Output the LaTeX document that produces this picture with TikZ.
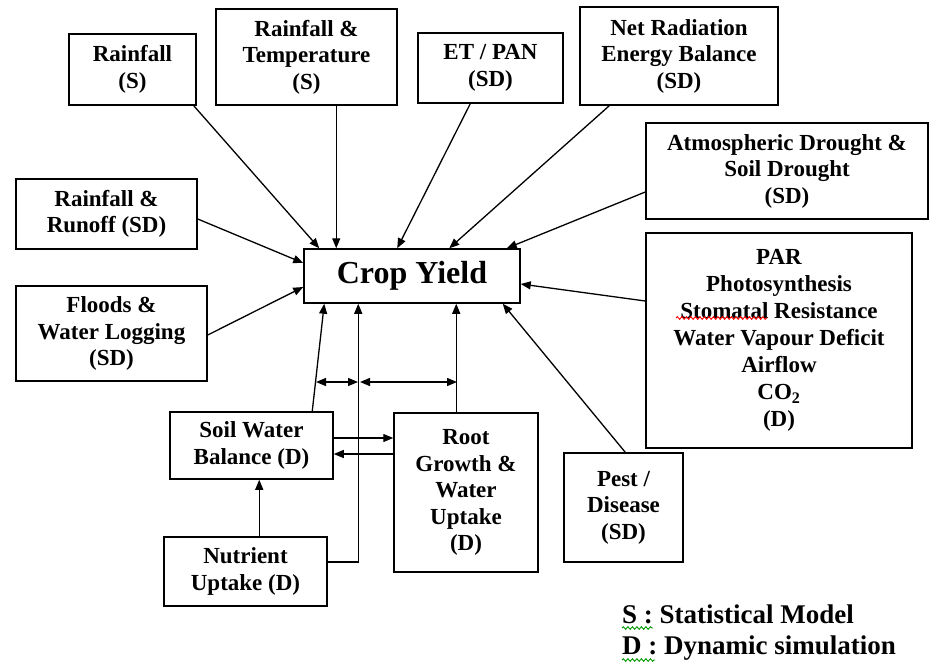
\documentclass[tikz,border=0pt]{standalone}
\usepackage{fontspec}
\setmainfont{Liberation Serif}
\usetikzlibrary{arrows.meta,calc,decorations.pathmorphing}
\begin{document}
\begin{tikzpicture}[x=1pt,y=-1pt,
  box/.style={draw, line width=1.5pt, align=center, inner sep=0pt,
    font=\fontsize{23}{26.5}\selectfont\bfseries},
  arr/.style={-{Triangle[length=10pt,width=8pt]}, line width=1.3pt},
  darr/.style={{Triangle[length=10pt,width=8pt]}-{Triangle[length=10pt,width=8pt]}, line width=1.3pt},
  legend/.style={anchor=base west, inner sep=0pt, font=\fontsize{27}{31}\selectfont\bfseries},
  wavy/.style={decorate, decoration={snake, segment length=4.5pt, amplitude=1.3pt}, line width=0.9pt}]
\useasboundingbox (0,0) rectangle (931,664);

% boxes
\node[box, minimum width=127pt, minimum height=71pt] (rain) at (132.5,69.5) {Rainfall\\(S)};
\node[box, minimum width=181pt, minimum height=96pt] (rtemp) at (306.5,57) {Rainfall \&\\Temperature\\(S)};
\node[box, minimum width=145pt, minimum height=70pt] (et) at (490.5,68) {ET / PAN\\(SD)};
\node[box, minimum width=198pt, minimum height=98pt] (netrad) at (679,56) {Net Radiation\\Energy Balance\\(SD)};
\node[box, minimum width=282pt, minimum height=96pt] (atmos) at (787,171) {Atmospheric Drought \&\\Soil Drought\\(SD)};
\node[box, minimum width=181pt, minimum height=70pt] (runoff) at (106.5,214) {Rainfall \&\\Runoff (SD)};
\node[box, minimum width=191pt, minimum height=95pt] (floods) at (111.5,333.5) {Floods \&\\Water Logging\\(SD)};
\node[box, minimum width=216pt, minimum height=54pt, font=\fontsize{32}{36}\selectfont\bfseries] (crop) at (412,276) {Crop Yield};
\node[box, minimum width=266pt, minimum height=215pt, font=\fontsize{23}{27}\selectfont\bfseries] (par) at (779,340.5) {PAR\\Photosynthesis\\Stomatal Resistance\\Water Vapour Deficit\\Airflow\\CO\textsubscript{2}\\(D)};
\node[box, minimum width=163pt, minimum height=67pt] (soil) at (251.5,445.5) {Soil Water\\Balance (D)};
\node[box, minimum width=144pt, minimum height=159pt] (root) at (466,492.5) {Root\\Growth \&\\Water\\Uptake\\(D)};
\node[box, minimum width=119pt, minimum height=109pt] (pest) at (623.5,507.5) {Pest /\\Disease\\(SD)};
\node[box, minimum width=163pt, minimum height=69pt] (nutr) at (245.5,571.5) {Nutrient\\Uptake (D)};

% legend
\node[legend] (legS) at (622,623) {S : Statistical Model};
\node[legend] (legD) at (622,654) {D : Dynamic simulation};

% arrows into Crop Yield
\draw[arr] ($(rain.south east)+(-3,0)$) -- ($(crop.north west)+(16,0)$);
\draw[arr] ($(rtemp.south west)+(121,0)$) -- ($(crop.north west)+(33,0)$);
\draw[arr] ($(et.south west)+(53,0)$) -- ($(crop.north west)+(94,0)$);
\draw[arr] ($(netrad.south west)+(30,0)$) -- ($(crop.north west)+(146,0)$);
\draw[arr] ($(atmos.west)+(0,21)$) -- ($(crop.north east)+(-14,0)$);
\draw[arr] ($(runoff.east)+(0,5)$) -- ($(crop.west)+(0,-13)$);
\draw[arr] ($(floods.east)+(0,1.5)$) -- ($(crop.west)+(0,11)$);
\draw[arr] ($(par.west)+(0,-39.5)$) -- ($(crop.east)+(0,8)$);
\draw[arr] ($(pest.north west)+(62,0)$) -- ($(crop.south east)+(-18,0)$);
\draw[arr] ($(soil.north west)+(143,0)$) -- ($(crop.south west)+(21,0)$);
\draw[arr] ($(nutr.east)+(0,-9.5)$) -| ($(crop.south west)+(55,0)$);
\draw[arr] ($(root.north west)+(63,0)$) -- ($(crop.south west)+(153,0)$);

% double arrows
\coordinate (d1) at (316,382);
\coordinate (d2) at (358,382);
\coordinate (d3) at (360,382);
\coordinate (d4) at (457,382);
\draw[darr] (d1) -- (d2);
\draw[darr] (d3) -- (d4);

% lower connections
\draw[arr] ($(soil.east)+(0,-7.5)$) -- ($(root.west)+(0,-54.5)$);
\draw[arr] ($(root.west)+(0,-38.5)$) -- ($(soil.east)+(0,8.5)$);
\draw[arr] ($(nutr.north west)+(96,0)$) -- ($(soil.south west)+(90,0)$);

% spell-check squiggles
\draw[wavy, red] (676,318) -- (767,318);
\draw[wavy, green!60!black] (622,628) -- (653,628);
\draw[wavy, green!60!black] (622,660) -- (655,660);
\end{tikzpicture}
\end{document}
